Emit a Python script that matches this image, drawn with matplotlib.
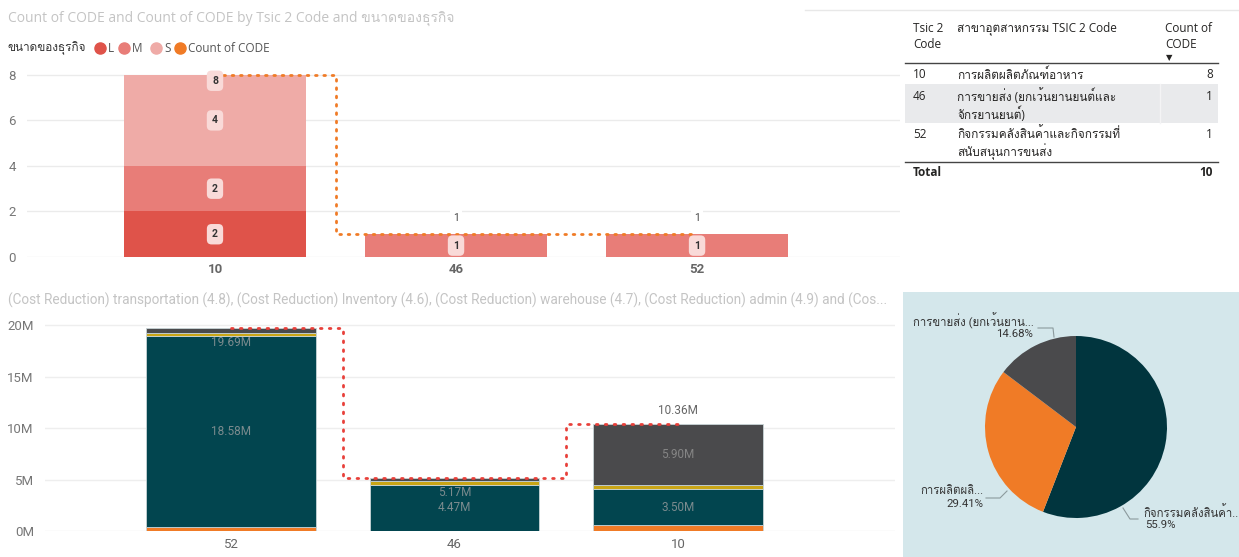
import matplotlib
matplotlib.use("Agg")
import matplotlib.pyplot as plt
from matplotlib import font_manager as fm
from matplotlib.ft2font import FT2Font
from matplotlib.lines import Line2D
from matplotlib.patches import Rectangle

# --- data -------------------------------------------------------------
tsic_top = ["10", "46", "52"]
size_L = [2, 0, 0]
size_M = [2, 1, 1]
size_S = [4, 0, 0]

table_codes = ["10", "46", "52"]
table_names = [["การผลิตผลิตภัณฑ์อาหาร"],
               ["การขายส่ง (ยกเว้นยานยนต์และ", "จักรยานยนต์)"],
               ["กิจกรรมคลังสินค้าและกิจกรรมที่", "สนับสนุนการขนส่ง"]]
table_counts = [8, 1, 1]

tsic_cost = ["52", "46", "10"]
cost_orange = [0.40, 0.00, 0.54]      # millions
cost_teal = [18.58, 4.47, 3.50]
cost_gold = [0.30, 0.38, 0.4196]
cost_gray = [0.409, 0.3217, 5.90]

pie_labels = ["กิจกรรมคลังสินค้า...", "การผลิตผลิ...", "การขายส่ง (ยกเว้นยาน..."]
pie_codes = ["52", "10", "46"]

# --- fonts ------------------------------------------------------------
def find_thai_font():
    for f in fm.fontManager.ttflist:
        try:
            if FT2Font(f.fname).get_char_index(0x0E01):
                return f.name
        except Exception:
            pass
    return None

thai = find_thai_font()
UI = ["Open Sans"] + ([thai] if thai else []) + ["DejaVu Sans"]
DIN = ["Roboto"] + ([thai] if thai else []) + ["DejaVu Sans"]
plt.rcParams["font.family"] = UI

W, H = 1239, 557
fig = plt.figure(figsize=(W / 100, H / 100), dpi=100)


def rect(x0, y0, x1, y1):
    return [x0 / W, 1 - y1 / H, (x1 - x0) / W, (y1 - y0) / H]


def fx(x):
    return x / W


def fy(y):
    return 1 - y / H


ORANGE = "#F07B26"
L_COL, M_COL, S_COL = "#DF534A", "#E87D78", "#EFABA7"

# --- top left: counts by size -----------------------------------------
fig.text(fx(8), fy(18), "Count of CODE and Count of CODE by Tsic 2 Code and ขนาดของธุรกิจ",
         fontsize=10, color="#C4C4C4", va="center")

fig.text(fx(8), fy(48), "ขนาดของธุรกิจ", fontsize=8.5, color="#333333", va="center")
legend_items = [("L", L_COL, 100), ("M", M_COL, 124), ("S", S_COL, 156), ("Count of CODE", ORANGE, 180)]
for name, col, xp in legend_items:
    fig.add_artist(Line2D([fx(xp)], [fy(48)], marker="o", markersize=8, color=col,
                          transform=fig.transFigure))
    fig.text(fx(xp + 8), fy(48), name, fontsize=8.5, color="#555555", va="center")

ax1 = fig.add_axes(rect(27, 68, 900, 257))
xs = list(range(len(tsic_top)))
ax1.bar(xs, size_L, width=0.755, color=L_COL)
ax1.bar(xs, size_M, width=0.755, bottom=size_L, color=M_COL)
bottom_S = [a + b for a, b in zip(size_L, size_M)]
ax1.bar(xs, size_S, width=0.755, bottom=bottom_S, color=S_COL)
totals_top = [a + b + c for a, b, c in zip(size_L, size_M, size_S)]
ax1.step(xs, totals_top, where="mid", color=ORANGE, lw=2, linestyle=(0, (0.6, 2.4)),
         dash_capstyle="round")

box = dict(boxstyle="round,pad=0.5,rounding_size=0.45", fc="#F9DAD8", ec="none")
for i in xs:
    base = 0
    for seg in (size_L, size_M, size_S):
        v = seg[i]
        if v:
            ax1.text(i, base + v / 2, str(v), ha="center", va="center", fontsize=7.5,
                     fontweight="bold", color="#333333", bbox=box, family=DIN)
        base += v
    if totals_top[i] > 2:
        ax1.text(i, totals_top[i] - 0.26, str(totals_top[i]), ha="center", va="center",
                 fontsize=7.5, fontweight="bold", color="#333333", bbox=box, family=DIN)
    else:
        ax1.text(i, totals_top[i] + 0.72, str(totals_top[i]), ha="center", va="center",
                 fontsize=7.5, color="#444444", family=DIN,
                 bbox=dict(boxstyle="square,pad=0.3", fc="white", ec="none"))

ax1.set_ylim(0, 8.3)
ax1.set_xlim(-0.78, 2.842)
ax1.set_yticks([0, 2, 4, 6, 8])
ax1.set_xticks(xs)
ax1.set_xticklabels(tsic_top, fontweight="bold", fontsize=9.5, color="#666666", family=DIN)
ax1.tick_params(axis="y", labelsize=9.5, labelcolor="#777777", length=0, pad=8)
ax1.tick_params(axis="x", length=0, pad=4)
for lab in ax1.get_yticklabels():
    lab.set_family(DIN)
ax1.grid(axis="y", color="#EBEBEB", lw=1)
ax1.set_axisbelow(True)
for s in ax1.spines.values():
    s.set_visible(False)

# --- top right: table -------------------------------------------------
fig.add_artist(Line2D([fx(805), fx(1239)], [fy(10), fy(10)], color="#E8E8E8", lw=1,
                      transform=fig.transFigure))
fig.patches.append(Rectangle((fx(903), fy(185)), fx(1239) - fx(903), fy(14) - fy(185),
                             transform=fig.transFigure, fc="white", ec="none", zorder=2))
tk = dict(fontsize=8.5, color="#252423", va="center", zorder=5)
fig.text(fx(913), fy(28), "Tsic 2", **tk)
fig.text(fx(913), fy(45), "Code", **tk)
fig.text(fx(957), fy(28), "สาขาอุตสาหกรรม TSIC 2 Code", **tk)
fig.text(fx(1165), fy(28), "Count of", **tk)
fig.text(fx(1165), fy(45), "CODE", **tk)
fig.text(fx(1166), fy(58), "▼", fontsize=6, color="#252423", va="center", zorder=5,
         family="DejaVu Sans")
fig.add_artist(Line2D([fx(905), fx(1218)], [fy(63), fy(63)], color="#444444", lw=1,
                      transform=fig.transFigure, zorder=5))
fig.patches.append(Rectangle((fx(905), fy(123)), fx(1218) - fx(905), fy(84) - fy(123),
                             transform=fig.transFigure, fc="#E9EAEC", ec="none", zorder=3))
fig.add_artist(Line2D([fx(1160), fx(1160)], [fy(84), fy(123)], color="#F4F4F5", lw=1,
                      transform=fig.transFigure, zorder=4))
row_y = [75, 96, 134]
for code, names, cnt, y in zip(table_codes, table_names, table_counts, row_y):
    fig.text(fx(913), fy(y), code, **tk)
    for k, nm in enumerate(names):
        fig.text(fx(957), fy(y + 18 * k), nm, **tk)
    fig.text(fx(1213), fy(y), str(cnt), ha="right", **tk)
fig.add_artist(Line2D([fx(905), fx(1218)], [fy(162), fy(162)], color="#444444", lw=1,
                      transform=fig.transFigure, zorder=5))
fig.text(fx(913), fy(172), "Total", fontweight="bold", **tk)
fig.text(fx(1213), fy(172), str(sum(table_counts)), ha="right", fontweight="bold", **tk)

# --- bottom left: cost reduction stacks -------------------------------
fig.text(fx(8), fy(300), "(Cost Reduction) transportation (4.8), (Cost Reduction) Inventory (4.6), "
         "(Cost Reduction) warehouse (4.7), (Cost Reduction) admin (4.9) and (Cos...",
         fontsize=9.8, color="#C4C4C4", va="center", family=DIN)

ax2 = fig.add_axes(rect(45, 320, 895, 531))
xc = list(range(len(tsic_cost)))
seg_cols = [ORANGE, "#02454F", "#C9A516", "#4A4A4C"]
base = [0.0] * len(xc)
for seg, col in zip([cost_orange, cost_teal, cost_gold, cost_gray], seg_cols):
    ax2.bar(xc, seg, width=0.76, bottom=base, color=col, edgecolor="#C8D4D7", lw=0.6)
    base = [b + v for b, v in zip(base, seg)]
totals = base
ax2.step(xc, totals, where="mid", color="#E8403A", lw=2, linestyle=(0, (0.6, 2.6)),
         dash_capstyle="round")

lab = dict(ha="center", va="center", fontsize=8.5, family=DIN)
for i in xc:
    ax2.text(i, cost_orange[i] + cost_teal[i] / 2, f"{cost_teal[i]:.2f}M", color="#7B8B8E", **lab)
    if cost_gray[i] > 2:
        gmid = totals[i] - cost_gray[i] / 2
        ax2.text(i, gmid, f"{cost_gray[i]:.2f}M", color="#858585", **lab)
        ax2.text(i, totals[i] + 1.3, f"{totals[i]:.2f}M", color="#666666", **lab)
    else:
        ax2.text(i, totals[i] - 1.4, f"{totals[i]:.2f}M", color="#7B8B8E", **lab)

ax2.set_ylim(0, 20.5)
ax2.set_xlim(-0.832, 2.971)
ax2.set_yticks([0, 5, 10, 15, 20])
ax2.set_yticklabels([f"{v}M" for v in [0, 5, 10, 15, 20]], family=DIN)
ax2.set_xticks(xc)
ax2.set_xticklabels(tsic_cost, family=DIN)
ax2.tick_params(axis="y", labelsize=9.5, labelcolor="#777777", length=0, pad=8)
ax2.tick_params(axis="x", labelsize=9.5, labelcolor="#666666", length=0, pad=5)
ax2.grid(axis="y", color="#EEEEEE", lw=1)
ax2.set_axisbelow(True)
for s in ax2.spines.values():
    s.set_visible(False)

# --- bottom right: share pie ------------------------------------------
fig.patches.append(Rectangle((fx(903), fy(557)), fx(1239) - fx(903), fy(292) - fy(557),
                             transform=fig.transFigure, fc="#D4E7EB", ec="none", zorder=-1))
cx, cy, r = 1076, 427, 91
ax3 = fig.add_axes(rect(cx - 110, cy - 110, cx + 110, cy + 110))
ax3.axis("off")
pie_vals = [totals[tsic_cost.index(c)] for c in pie_codes]
ax3.pie(pie_vals, colors=["#01353E", ORANGE, "#4A4A4C"], startangle=90, counterclock=False,
        radius=1, wedgeprops=dict(lw=0))
ax3.set_xlim(-110 / r, 110 / r)
ax3.set_ylim(-110 / r, 110 / r)
ax3.set_aspect("equal")


def pd(x, y):
    return (x - cx) / r, -(y - cy) / r


pct = [100 * v / sum(pie_vals) for v in pie_vals]
pct_txt = [f"{p:.2f}".rstrip("0").rstrip(".") + "%" for p in pct]
leaders = [[(1123, 508), (1130, 519), (1138, 519)],
           [(1007, 491), (1000, 498), (986, 498)],
           [(1054, 337), (1053, 328), (1038, 328)]]
text_pos = [(1143, 512, "left"), (984, 491, "right"), (1034, 321, "right")]
for lead, (tx, ty, ha), name, p in zip(leaders, text_pos, pie_labels, pct_txt):
    pts = [pd(*q) for q in lead]
    ax3.plot([q[0] for q in pts], [q[1] for q in pts], color="#8C9A9D", lw=0.8, clip_on=False)
    ax3.text(*pd(tx, ty), name, ha=ha, va="center", fontsize=8.2, color="#333333",
             family=DIN, clip_on=False)
    ax3.text(*pd(tx + (2 if ha == "left" else -1), ty + 13), p, ha=ha, va="center",
             fontsize=8.2, color="#333333", family=DIN, clip_on=False)

fig.savefig("out.png", dpi=100)
